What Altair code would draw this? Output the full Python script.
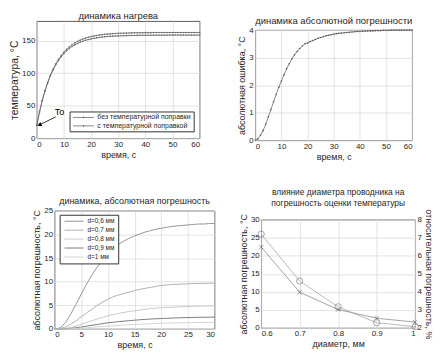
import altair as alt
import pandas as pd

FONT = "Liberation Sans"
GRID = "#dadada"
TXT = "#262626"

# ---------------- data ----------------
# panel 1: heating dynamics
time_heat = list(range(0, 61))
temp_without_corr = [20.0, 40.4, 57.7, 72.5, 85.1, 95.9, 105.0, 112.9, 119.6, 125.3,
                     130.2, 134.4, 137.9, 140.9, 143.5, 145.7, 147.6, 149.2, 150.6, 151.7,
                     152.7, 153.5, 154.3, 154.9, 155.4, 155.9, 156.3, 156.6, 156.9, 157.1,
                     157.3, 157.5, 157.6, 157.7, 157.9, 158.0, 158.0, 158.1, 158.2, 158.2,
                     158.3, 158.3, 158.3, 158.4, 158.4, 158.4, 158.4, 158.4, 158.4, 158.5,
                     158.5, 158.5, 158.5, 158.5, 158.5, 158.5, 158.5, 158.5, 158.5, 158.5, 158.5]
temp_with_corr = [20.0, 40.5, 57.9, 72.9, 85.7, 96.8, 106.1, 114.3, 121.3, 127.2,
                  132.4, 136.8, 140.5, 143.7, 146.5, 148.8, 150.8, 152.5, 154.0, 155.2,
                  156.3, 157.1, 158.0, 158.6, 159.2, 159.7, 160.1, 160.4, 160.8, 161.0,
                  161.2, 161.4, 161.5, 161.6, 161.8, 161.9, 162.0, 162.1, 162.2, 162.2,
                  162.3, 162.3, 162.3, 162.4, 162.4, 162.4, 162.4, 162.4, 162.4, 162.5,
                  162.5, 162.5, 162.5, 162.5, 162.5, 162.5, 162.5, 162.5, 162.5, 162.5, 162.5]
series_heat = ["без температурной поправки", "с температурной поправкой"]
to_label = ["To"]
to_label_pos = [6.6, 40.0]          # time, temperature
to_arrow = [7.0, 33.0, 1.2, 21.0]   # from (t, T) to (t, T)

# panel 2: absolute error dynamics
abs_error_heat = [0.0, 0.05, 0.18, 0.35, 0.58, 0.85, 1.12, 1.4, 1.66, 1.92,
                  2.15, 2.38, 2.6, 2.78, 2.95, 3.1, 3.22, 3.33, 3.42, 3.5,
                  3.53, 3.58, 3.62, 3.66, 3.70, 3.73, 3.76, 3.79, 3.81, 3.83,
                  3.85, 3.87, 3.88, 3.89, 3.9, 3.91, 3.92, 3.93, 3.94, 3.95,
                  3.95, 3.96, 3.96, 3.97, 3.97, 3.97, 3.98, 3.98, 3.98, 3.99,
                  3.99, 3.99, 4.0, 4.0, 4.0, 4.0, 4.0, 4.0, 4.0, 4.0, 4.0]

# panel 3: absolute error for several wire diameters
time_d = list(range(0, 31))
diam_labels = ["d=0,6 мм", "d=0,7 мм", "d=0,8 мм", "d=0,9 мм", "d=1 мм"]
err_d06 = [0, 0.2, 1.3, 3.1, 5.2, 7.4, 9.5, 11.4, 13.1, 14.6, 15.9, 17.0, 17.9, 18.6, 19.2, 19.7,
           20.1, 20.5, 20.8, 21.1, 21.3, 21.5, 21.7, 21.8, 21.9, 22.0, 22.1, 22.2, 22.2, 22.3, 22.3]
err_d07 = [0, 0.1, 0.4, 1.0, 1.7, 2.6, 3.4, 4.2, 5.0, 5.7, 6.3, 6.8, 7.2, 7.5, 7.8, 8.1,
           8.4, 8.6, 8.8, 9.0, 9.2, 9.3, 9.4, 9.45, 9.5, 9.55, 9.6, 9.62, 9.65, 9.67, 9.7]
err_d08 = [0, 0.03, 0.15, 0.35, 0.6, 1.0, 1.4, 1.75, 2.1, 2.45, 2.8, 3.05, 3.3, 3.5, 3.7, 3.85,
           4.0, 4.15, 4.3, 4.4, 4.5, 4.55, 4.6, 4.65, 4.7, 4.75, 4.8, 4.82, 4.85, 4.87, 4.9]
err_d09 = [0, 0.01, 0.05, 0.12, 0.25, 0.4, 0.6, 0.78, 0.95, 1.12, 1.3, 1.42, 1.55, 1.65, 1.75, 1.85,
           1.95, 2.02, 2.1, 2.15, 2.2, 2.25, 2.3, 2.34, 2.38, 2.41, 2.44, 2.46, 2.48, 2.49, 2.5]
err_d10 = [0, 0.0, 0.02, 0.05, 0.1, 0.17, 0.25, 0.35, 0.45, 0.53, 0.6, 0.68, 0.75, 0.82, 0.9, 0.95,
           1.0, 1.05, 1.1, 1.15, 1.2, 1.22, 1.25, 1.28, 1.3, 1.32, 1.35, 1.37, 1.38, 1.39, 1.4]
diam_colors = ["#8a8a8a", "#a8a8a8", "#c4c4c4", "#6e6e6e", "#cfcfcf"]

# panel 4: influence of diameter
diam_mm = [0.6, 0.7, 0.8, 0.9, 1.0]
abs_err_diam = [22.4, 9.9, 5.1, 2.7, 1.6]
rel_err_diam = [7.2, 4.6, 3.17, 2.29, 2.07]

# ---------------- helpers ----------------
def ax(title, values, fmt=None, **kw):
    args = dict(title=title, values=values, grid=True, gridColor=GRID, gridWidth=0.8,
                ticks=False, domain=False, labelFontSize=8, titleFontSize=9,
                labelPadding=2, titlePadding=2, labelColor=TXT, titleColor=TXT,
                titleFontWeight="normal", labelFont=FONT, titleFont=FONT, labelOverlap=False)
    if fmt:
        args["format"] = fmt
    args.update(kw)
    return alt.Axis(**args)

def ttl(text, size=9, **kw):
    return alt.TitleParams(text, font=FONT, fontSize=size, fontWeight="normal", color=TXT,
                           anchor="middle", offset=1, frame="group", **kw)

spacer_df = pd.DataFrame({"v": [0]})

def spacer(w, h):
    return alt.Chart(spacer_df).mark_point(opacity=0, size=0).encode(
        x=alt.X("v:Q", axis=None), y=alt.Y("v:Q", axis=None)
    ).properties(width=w, height=h, view=alt.ViewBackground(strokeOpacity=0, strokeWidth=0))

# ---------------- panel 1 ----------------
heat_df = pd.DataFrame({
    "t": time_heat * 2,
    "T": temp_without_corr + temp_with_corr,
    "series": [series_heat[0]] * len(time_heat) + [series_heat[1]] * len(time_heat),
})
x1 = alt.X("t:Q", scale=alt.Scale(domain=[0, 60], nice=False), axis=ax("время, с", [0, 10, 20, 30, 40, 50, 60]))
y1 = alt.Y("T:Q", scale=alt.Scale(domain=[0, 180], nice=False),
           axis=ax("температура, °C", [0, 50, 100, 150], titleFontSize=10.5))
LEG1 = "M-3,0H3M0.15,0A0.15,0.15,0,1,1,-0.15,0A0.15,0.15,0,1,1,0.15,0"
p1_lines = alt.Chart(heat_df).mark_line(strokeWidth=0.8, point=alt.OverlayMarkDef(filled=True, size=2.5)).encode(
    x=x1, y=y1,
    color=alt.Color("series:N", sort=series_heat,
                    scale=alt.Scale(domain=series_heat, range=["#6a6a6a", "#6a6a6a"]),
                    legend=alt.Legend(title=None, orient="none", legendX=33, legendY=91,
                                      symbolType=LEG1, symbolSize=49, symbolStrokeWidth=0.8,
                                      symbolStrokeColor="#6a6a6a", symbolOffset=8, labelOffset=10,
                                      labelFont=FONT, labelFontSize=7, labelColor=TXT,
                                      strokeColor="#333", fillColor="white", padding=2,
                                      rowPadding=1.5, labelLimit=200)),
)
to_df = pd.DataFrame({"t": [to_label_pos[0]], "T": [to_label_pos[1]], "label": to_label})
p1_text = alt.Chart(to_df).mark_text(align="left", baseline="middle", font=FONT, fontSize=9, color="#000").encode(
    x=x1, y=y1, text="label:N")
arrow_df = pd.DataFrame({"t": [to_arrow[0]], "T": [to_arrow[1]], "t2": [to_arrow[2]], "T2": [to_arrow[3]]})
p1_arrow = alt.Chart(arrow_df).mark_rule(color="#000", strokeWidth=0.8).encode(
    x=x1, y=y1, x2="t2:Q", y2="T2:Q")
p1_head = alt.Chart(arrow_df).mark_point(shape="triangle", angle=244, filled=True, size=22, color="#000", opacity=1).encode(
    x=alt.X("t2:Q", scale=alt.Scale(domain=[0, 60], nice=False), axis=ax("время, с", [0, 10, 20, 30, 40, 50, 60])),
    y=alt.Y("T2:Q", scale=alt.Scale(domain=[0, 180], nice=False),
            axis=ax("температура, °C", [0, 50, 100, 150], titleFontSize=10.5)))
panel1 = alt.layer(p1_lines, p1_arrow, p1_head, p1_text).properties(
    width=164, height=118, title=ttl("динамика нагрева", size=9.5))

# ---------------- panel 2 ----------------
err_df = pd.DataFrame({"t": time_heat, "e": abs_error_heat})
panel2 = alt.Chart(err_df).mark_line(strokeWidth=0.8, color="#6a6a6a",
                                     point=alt.OverlayMarkDef(filled=True, size=2.5, color="#555555")).encode(
    x=alt.X("t:Q", scale=alt.Scale(domain=[0, 60], nice=False), axis=ax("время, с", [0, 10, 20, 30, 40, 50, 60])),
    y=alt.Y("e:Q", scale=alt.Scale(domain=[0, 4], nice=False),
            axis=ax("абсолютная ошибка, °C", [0, 1, 2, 3, 4])),
).properties(width=158, height=111, title=ttl("динамика абсолютной погрешности", size=9.5))

# ---------------- panel 3 ----------------
d_series = [err_d06, err_d07, err_d08, err_d09, err_d10]
d_df = pd.DataFrame({
    "t": time_d * len(diam_labels),
    "e": [v for s in d_series for v in s],
    "d": [lab for lab in diam_labels for _ in time_d],
})
LEG3 = "M-3.2,0H3.2"
panel3 = alt.Chart(d_df).mark_line(strokeWidth=0.9).encode(
    x=alt.X("t:Q", scale=alt.Scale(domain=[0, 30], nice=False), axis=ax("время, с", [0, 5, 10, 15, 20, 25, 30])),
    y=alt.Y("e:Q", scale=alt.Scale(domain=[0, 25], nice=False),
            axis=ax("абсолютная погрешность, °C", [0, 5, 10, 15, 20, 25])),
    color=alt.Color("d:N", sort=diam_labels, scale=alt.Scale(domain=diam_labels, range=diam_colors),
                    legend=alt.Legend(title=None, orient="none", legendX=5, legendY=4,
                                      symbolType=LEG3, symbolSize=36, symbolStrokeWidth=0.9,
                                      symbolOffset=8, labelOffset=10,
                                      labelFont=FONT, labelFontSize=6.5, labelColor=TXT,
                                      strokeColor="#333", fillColor="white", padding=3,
                                      rowPadding=2)),
).properties(width=161, height=119, title=ttl("динамика, абсолютная погрешность"))

# ---------------- panel 4 ----------------
diam_df = pd.DataFrame({"d": diam_mm, "abs": abs_err_diam, "rel": rel_err_diam})
x4 = alt.X("d:Q", scale=alt.Scale(domain=[0.6, 1.0], nice=False),
           axis=ax("диаметр, мм", diam_mm, fmt="~g"))
y4l = alt.Y("abs:Q", scale=alt.Scale(domain=[0, 30], nice=False),
            axis=ax("абсолютная погрешность, °C", [0, 5, 10, 15, 20, 25, 30]))
y4r = alt.Y("rel:Q", scale=alt.Scale(domain=[2, 8], nice=False),
            axis=ax("относительная погрешность, %", [2, 3, 4, 5, 6, 7, 8], orient="right", grid=False))
X_SHAPE = "M-1,-1L1,1M-1,1L1,-1"
left_line = alt.Chart(diam_df).mark_line(strokeWidth=0.8, color="#8c8c8c").encode(x=x4, y=y4l)
left_pts = alt.Chart(diam_df).mark_point(shape=X_SHAPE, size=20, color="#555", strokeWidth=0.8).encode(x=x4, y=y4l)
right_line = alt.Chart(diam_df).mark_line(strokeWidth=0.8, color="#a8a8a8").encode(x=x4, y=y4r)
right_pts = alt.Chart(diam_df).mark_point(shape="circle", size=40, color="#666", strokeWidth=0.8,
                                          filled=False).encode(x=x4, y=y4r)
panel4 = alt.layer(alt.layer(left_line, left_pts), alt.layer(right_line, right_pts)).resolve_scale(
    y="independent").properties(
    width=155, height=109,
    title=ttl(["влияние диаметра проводника на", "погрешность оценки температуры"], size=8.5, lineHeight=11.5))

# ---------------- layout ----------------
def col(h, panel):
    return alt.vconcat(spacer(1, h), panel, spacing=0).resolve_scale(color="independent")

row1 = alt.hconcat(
    alt.hconcat(spacer(1, 1), col(1, panel1), spacing=0).resolve_scale(color="independent"),
    col(6, panel2), spacing=36).resolve_scale(color="independent")
row2 = alt.hconcat(
    alt.hconcat(spacer(24, 1), col(10, panel3), spacing=0).resolve_scale(color="independent"),
    col(1, panel4), spacing=21).resolve_scale(color="independent")
chart = alt.vconcat(row1, row2, spacing=24).resolve_scale(color="independent").properties(
    padding=0).configure_view(stroke="#303030", strokeWidth=0.8).configure_axis(titleFontWeight="normal")

chart.save("out.html", embed_options={"renderer": "svg", "actions": False})
